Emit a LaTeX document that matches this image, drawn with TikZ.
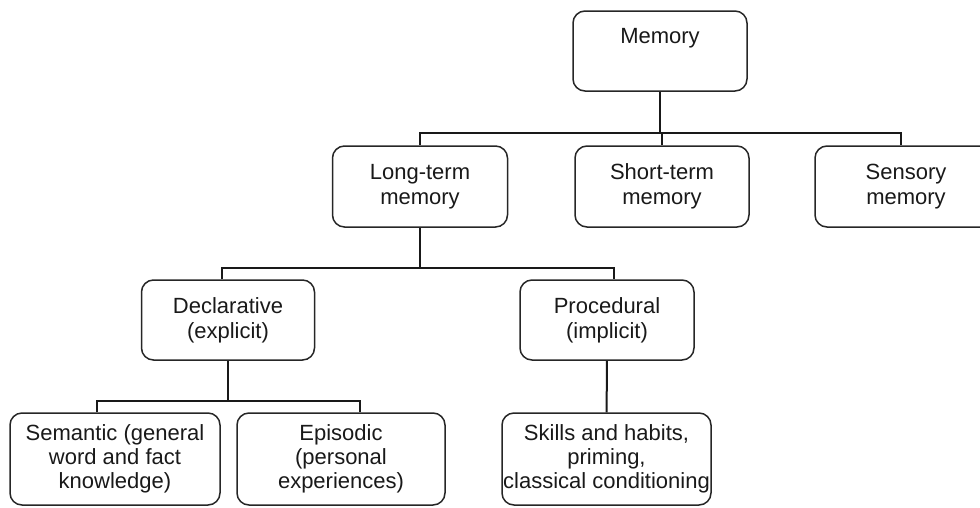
\documentclass[tikz,border=0pt]{standalone}
\usepackage{fontspec}
\setmainfont{Liberation Sans}
\begin{document}
\begin{tikzpicture}[x=1pt, y=-1pt,
    membox/.style={draw=black!85, line width=1.5pt, rounded corners=12pt,
        align=center, inner sep=1pt, text=black!90,
        font=\fontsize{22}{25}\selectfont},
    leafbox/.style={membox, font=\fontsize{22}{24}\selectfont},
    link/.style={draw=black!90, line width=2pt}]

  \useasboundingbox (0,0) rectangle (980,507);

  % ---- top level ----
  \node[membox, minimum width=174pt, minimum height=80pt] (mem) at (660,51)
      {Memory\\\phantom{Memory}};

  % ---- the three stores ----
  \node[membox, minimum width=175pt, minimum height=81pt] (lt) at (420,186.5)
      {Long-term\\memory};
  \node[membox, minimum width=174pt, minimum height=81pt] (st) at (662,186.5)
      {Short-term\\memory};
  \node[membox, minimum width=182pt, minimum height=81pt] (sen) at (906,186.5)
      {Sensory\\memory};

  \coordinate (bus1) at (660,133);
  \draw[link] (mem) -- (bus1);
  \draw[link] (lt.north) |- (bus1) -| ([xshift=-5pt]sen.north);
  \draw[link] (st.north) -- (st.north |- bus1);

  % ---- long-term memory split ----
  \node[membox, minimum width=173pt, minimum height=80pt] (dec) at (228,320)
      {Declarative\\(explicit)};
  \node[membox, minimum width=174pt, minimum height=80pt] (pro) at (607,320)
      {Procedural\\(implicit)};

  \coordinate (bus2) at (420,268);
  \draw[link] (lt) -- (bus2);
  \draw[link] ([xshift=-6pt]dec.north) |- (bus2) -| ([xshift=7pt]pro.north);

  % ---- leaves ----
  \node[leafbox, minimum width=210pt, minimum height=92pt] (sem) at (115,459)
      {Semantic (general\\word and fact\\knowledge)};
  \node[leafbox, minimum width=208pt, minimum height=92pt] (epi) at (341,459)
      {Episodic\\(personal\\experiences)};
  \node[leafbox, minimum width=209pt, minimum height=92pt] (ski) at (606.5,459)
      {Skills and habits,\\priming,\\classical conditioning};

  \coordinate (bus3) at (228,401);
  \draw[link] (dec) -- (bus3);
  \draw[link] ([xshift=-18pt]sem.north) |- (bus3) -| ([xshift=19pt]epi.north);
  \draw[link] (pro) -- (ski);

\end{tikzpicture}
\end{document}
